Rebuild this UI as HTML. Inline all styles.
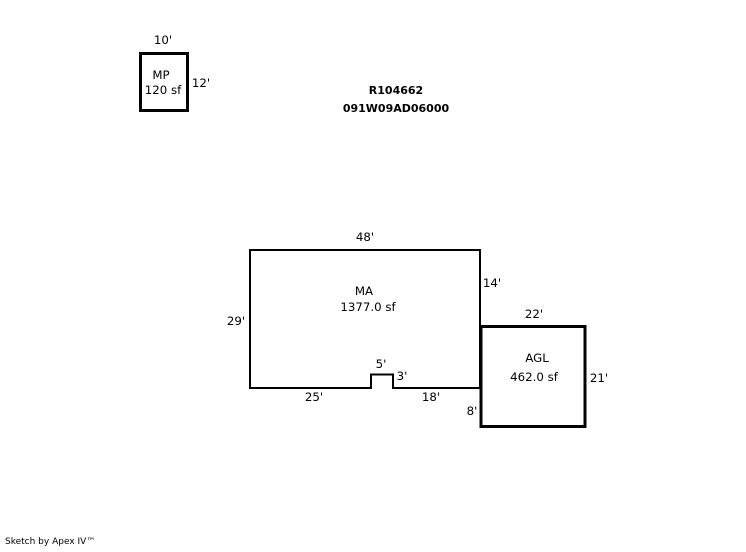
<!DOCTYPE html>
<html><head><style>
html,body{margin:0;padding:0;background:#fff;}
svg text{font-family:"DejaVu Sans","Liberation Sans",sans-serif;font-size:11.8px;fill:#000;}
</style></head><body>
<svg width="746" height="547" xmlns="http://www.w3.org/2000/svg">
<rect x="140.5" y="53.5" width="47" height="57" fill="none" stroke="#000" stroke-width="3"/>
<text x="163" y="44" text-anchor="middle">10'</text>
<text x="201" y="87" text-anchor="middle">12'</text>
<text x="161" y="79" text-anchor="middle">MP</text>
<text x="163" y="94" text-anchor="middle">120 sf</text>
<text x="396" y="94" text-anchor="middle" style="font-weight:bold;font-size:11px">R104662</text>
<text x="396" y="112" text-anchor="middle" style="font-weight:bold;font-size:11px">091W09AD06000</text>
<path d="M250,250 H480 V388 H393 V374.5 H371 V388 H250 Z" fill="none" stroke="#000" stroke-width="2"/>
<rect x="481" y="326.5" width="104" height="100" fill="none" stroke="#000" stroke-width="3"/>
<text x="365" y="241" text-anchor="middle">48'</text>
<text x="236" y="325" text-anchor="middle">29'</text>
<text x="492" y="287" text-anchor="middle">14'</text>
<text x="364" y="295" text-anchor="middle">MA</text>
<text x="368" y="311" text-anchor="middle">1377.0 sf</text>
<text x="381" y="368" text-anchor="middle">5'</text>
<text x="402" y="380" text-anchor="middle">3'</text>
<text x="314" y="401" text-anchor="middle">25'</text>
<text x="431" y="401" text-anchor="middle">18'</text>
<text x="472" y="415" text-anchor="middle">8'</text>
<text x="534" y="318" text-anchor="middle">22'</text>
<text x="537" y="362" text-anchor="middle">AGL</text>
<text x="534" y="381" text-anchor="middle">462.0 sf</text>
<text x="599" y="382" text-anchor="middle">21'</text>
<text x="5" y="544" style="font-size:9px">Sketch by Apex IV™</text>
</svg>
</body></html>
